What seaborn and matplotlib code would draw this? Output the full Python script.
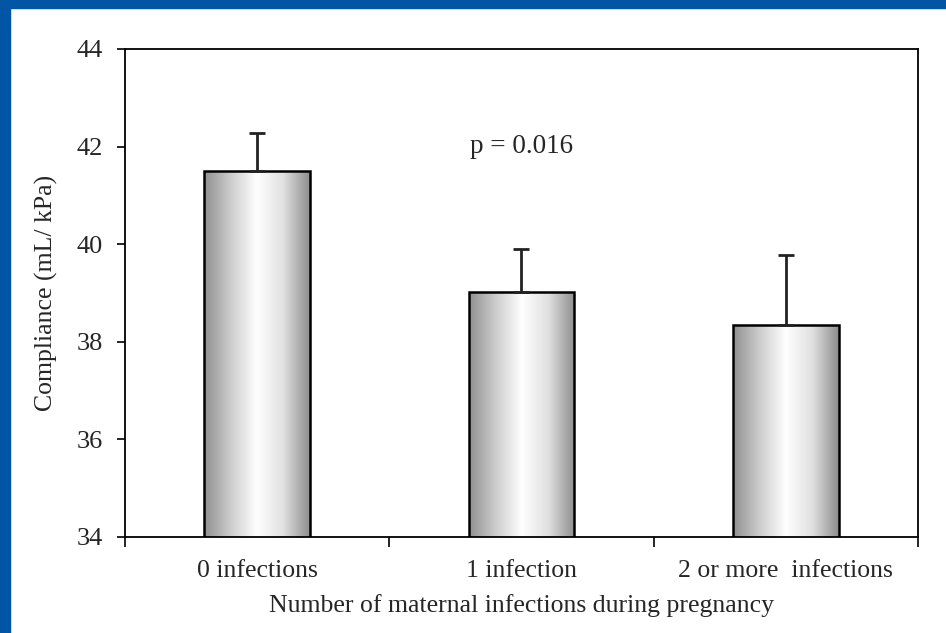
import numpy as np
import pandas as pd
import seaborn as sns
import matplotlib.pyplot as plt
from matplotlib.colors import LinearSegmentedColormap
from matplotlib.patches import Rectangle

# values
groups = ['0 infections', '1 infection', '2 or more  infections']
compliance = [41.5, 39.02, 38.34]
upper_err = [0.77, 0.88, 1.44]

df = pd.DataFrame({'group': groups, 'compliance': compliance})

sns.set_style('white')
plt.rcParams['font.family'] = ['Liberation Serif', 'DejaVu Serif']

fig = plt.figure(figsize=(9.46, 6.33), dpi=100)
ax = fig.add_axes([0.1321, 0.1517, 0.8383, 0.7709])

# blue slide border on the left and top
fig.patches.append(Rectangle((0, 0), 10 / 946, 1, transform=fig.transFigure,
                             color='#0055a5', zorder=-1))
fig.patches.append(Rectangle((0, 1 - 8 / 633), 1, 8 / 633, transform=fig.transFigure,
                             color='#0055a5', zorder=-1))

sns.barplot(data=df, x='group', y='compliance', width=0.4, color='white',
            edgecolor='black', linewidth=1.8, errorbar=None, ax=ax, zorder=3)

ax.set_ylim(34, 44)
ax.set_xlim(-0.5, 2.5)

# Excel-style grey gradient inside each bar
shade = LinearSegmentedColormap.from_list(
    'shade', ['#909090', '#cccccc', '#ffffff', '#e0e0e0', '#8e8e8e'])
grad = np.linspace(0, 1, 256).reshape(1, -1)
for patch in ax.patches:
    x0, w = patch.get_x(), patch.get_width()
    h = patch.get_height()
    im = ax.imshow(grad, cmap=shade, aspect='auto', extent=[x0, x0 + w, 34, h],
                   zorder=2, interpolation='bicubic')
    im.set_clip_path(patch)
    patch.set_facecolor('none')

# upper-only error bars
xs = np.arange(len(groups))
ax.errorbar(xs, compliance, yerr=[np.zeros(3), upper_err], fmt='none',
            ecolor='#222222', elinewidth=2, capsize=6, capthick=2, zorder=4)

ax.text(1.0, 42.0, 'p = 0.016', ha='center', va='center', fontsize=19.5)

ax.set_yticks([34, 36, 38, 40, 42, 44])
ax.set_xticks(xs)
ax.set_xticklabels(groups)
ax.tick_params(axis='y', which='major', left=True, length=6, width=1.2,
               labelsize=19, pad=10, color='black')
ax.tick_params(axis='x', which='major', bottom=False, labelsize=18.5, pad=13)
# tick marks between categories
ax.set_xticks([-0.5, 0.5, 1.5, 2.5], minor=True)
ax.tick_params(axis='x', which='minor', bottom=True, length=7, width=1.2, color='black')

for s in ax.spines.values():
    s.set_color('black')
    s.set_linewidth(1.3)

ax.set_xlabel('Number of maternal infections during pregnancy', fontsize=18.5, labelpad=9)
ax.set_ylabel('Compliance (mL/ kPa)', fontsize=18.5, labelpad=13)

fig.savefig('out.png', dpi=100)
